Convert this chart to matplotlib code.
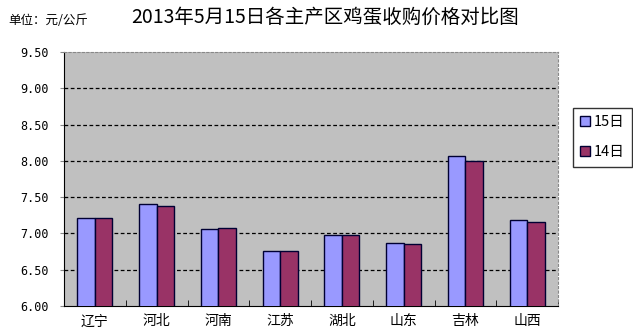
import numpy as np
import matplotlib
matplotlib.use("Agg")
import matplotlib.pyplot as plt
from matplotlib.patches import Patch

plt.rcParams['font.family'] = ['Noto Sans CJK SC', 'DejaVu Sans']

regions = ["辽宁", "河北", "河南", "江苏", "湖北", "山东", "吉林", "山西"]
price_15 = [7.21, 7.40, 7.06, 6.76, 6.98, 6.87, 8.07, 7.18]
price_14 = [7.21, 7.38, 7.07, 6.76, 6.98, 6.85, 8.00, 7.16]
yticks = [6.00, 6.50, 7.00, 7.50, 8.00, 8.50, 9.00, 9.50]

fig = plt.figure(figsize=(6.33, 3.35), dpi=100)
ax = fig.add_axes([64 / 633, 29 / 335, 494 / 633, 254 / 335])
ax.set_facecolor("#C0C0C0")

x = np.arange(len(regions))
w = 0.283
ax.bar(x - w / 2, price_15, w, color="#9999FF", edgecolor="#000033", linewidth=1, zorder=3, label="15日")
ax.bar(x + w / 2, price_14, w, color="#993366", edgecolor="#000033", linewidth=1, zorder=3, label="14日")

ax.set_ylim(6.0, 9.5)
ax.set_xlim(-0.5, len(regions) - 0.5)
ax.set_yticks(yticks)
ax.set_yticklabels(["%.2f" % v for v in yticks], family="DejaVu Sans Mono", fontsize=8.5)
for v in yticks[1:-1]:
    ax.axhline(v, color="black", linestyle=(0, (3, 2)), linewidth=0.9, zorder=1)

ax.set_xticks(x)
ax.set_xticklabels(regions, fontsize=10)
ax.set_xticks(np.arange(len(regions) + 1) - 0.5, minor=True)
ax.tick_params(axis="x", which="major", length=0, pad=6)
ax.tick_params(axis="x", which="minor", direction="in", length=4, color="black")
ax.tick_params(axis="y", length=3, color="#888888", pad=8)

ax.spines["left"].set_color("black")
ax.spines["bottom"].set_color("black")
for s in ["top", "right"]:
    ax.spines[s].set_color("#888888")
    ax.spines[s].set_linestyle((0, (2, 2)))

handles = [Patch(facecolor="#9999FF", edgecolor="#000033", label="15日"),
           Patch(facecolor="#993366", edgecolor="#000033", label="14日")]
leg = fig.legend(handles=handles, loc="upper left", bbox_to_anchor=(573 / 633, 1 - 108 / 335),
                 fontsize=10.5, frameon=True, fancybox=False, edgecolor="black",
                 handlelength=0.65, handleheight=0.65, handletextpad=0.3,
                 labelspacing=1.1, borderpad=0.5, borderaxespad=0)
leg.get_frame().set_linewidth(1)

fig.text(325 / 633, 1 - 17 / 335, "2013年5月15日各主产区鸡蛋收购价格对比图", ha="center", va="center", fontsize=14)
fig.text(8 / 633, 1 - 21 / 335, "单位：元/公斤", ha="left", va="center", fontsize=9)

fig.savefig("out.png", dpi=100)
